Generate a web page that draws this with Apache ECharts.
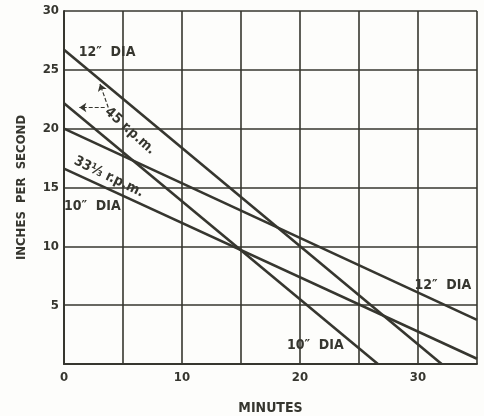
<!DOCTYPE html>
<html>
<head>
<meta charset="utf-8">
<script src="https://cdn.jsdelivr.net/npm/echarts@6/dist/echarts.min.js"></script>
<style>
  html, body { margin: 0; padding: 0; background: #fdfdfb; }
  #chart { width: 484px; height: 416px; }
</style>
</head>
<body>
<div id="chart"></div>
<script>
  // minutes / inches per second
  var minutes45_12 = [0, 32.0];
  var speed45_12 = [26.7, 0];
  var minutes45_10 = [0, 26.6];
  var speed45_10 = [22.15, 0];
  var minutes33_12 = [0, 35];
  var speed33_12 = [20.0, 3.75];
  var minutes33_10 = [0, 35];
  var speed33_10 = [16.6, 0.45];

  var xTicks = ['0', '10', '20', '30'];
  var yTicks = ['5', '10', '15', '20', '25', '30'];

  var ink = '#36362f';
  var font = 'DejaVu Sans Condensed';

  function pairs(xs, ys) {
    var out = [];
    for (var i = 0; i < xs.length; i++) out.push([xs[i], ys[i]]);
    return out;
  }

  function lineSeries(name, xs, ys) {
    return {
      name: name,
      type: 'line',
      data: pairs(xs, ys),
      symbol: 'none',
      lineStyle: { color: ink, width: 2.6 },
      animation: false
    };
  }

  var myChart = echarts.init(document.getElementById('chart'));

  var option = {
    backgroundColor: '#fdfdfb',
    animation: false,
    grid: { left: 64, right: 7, top: 11, bottom: 52, containLabel: false, outerBoundsMode: 'none' },
    xAxis: {
      type: 'value',
      min: 0,
      max: 35,
      interval: 5,
      name: 'MINUTES',
      nameLocation: 'middle',
      nameGap: 37,
      nameTextStyle: { color: ink, fontFamily: font, fontWeight: 'bold', fontSize: 14 },
      axisLine: { lineStyle: { color: ink, width: 2 } },
      axisTick: { show: false },
      axisLabel: {
        color: ink, fontFamily: font, fontWeight: 'bold', fontSize: 13, margin: 7,
        formatter: function (v) { return xTicks.indexOf(String(v)) >= 0 ? String(v) : ''; }
      },
      splitLine: { show: true, lineStyle: { color: ink, width: 1.6 } }
    },
    yAxis: {
      type: 'value',
      min: 0,
      max: 30,
      interval: 5,
      name: 'INCHES  PER  SECOND',
      nameLocation: 'middle',
      nameGap: 36,
      nameTextStyle: { color: ink, fontFamily: font, fontWeight: 'bold', fontSize: 13 },
      axisLine: { show: true, lineStyle: { color: ink, width: 2 } },
      axisTick: { show: false },
      axisLabel: {
        color: ink, fontFamily: font, fontWeight: 'bold', fontSize: 13, margin: 5,
        formatter: function (v) { return yTicks.indexOf(String(v)) >= 0 ? String(v) : ''; }
      },
      splitLine: { show: true, lineStyle: { color: ink, width: 1.6 } }
    },
    series: [
      lineSeries('45 rpm 12in', minutes45_12, speed45_12),
      lineSeries('45 rpm 10in', minutes45_10, speed45_10),
      lineSeries('33 rpm 12in', minutes33_12, speed33_12),
      lineSeries('33 rpm 10in', minutes33_10, speed33_10),
      {
        // arrows from the "45 r.p.m." note to its two lines
        type: 'lines',
        coordinateSystem: 'cartesian2d',
        polyline: false,
        symbol: ['none', 'arrow'],
        symbolSize: 7,
        lineStyle: { color: ink, width: 1.2, type: [4, 2], opacity: 1 },
        data: [
          { coords: [[3.75, 21.8], [3.05, 23.8]] },
          { coords: [[3.45, 21.8], [1.3, 21.8]] }
        ],
        animation: false
      }
    ]
  };
  myChart.setOption(option);

  // notes, placed in data coordinates
  var notes = [
    { text: '12″  DIA', at: [3.65, 26.5], rot: 0 },
    { text: '45 r.p.m.', at: [5.6, 19.8], rot: -42 },
    { text: '33⅓ r.p.m.', at: [3.8, 15.9], rot: -26 },
    { text: '10″  DIA', at: [2.4, 13.4], rot: 0 },
    { text: '12″  DIA', at: [32.1, 6.7], rot: 0 },
    { text: '10″  DIA', at: [21.3, 1.6], rot: 0 }
  ];
  var elements = notes.map(function (n) {
    var p = myChart.convertToPixel({ gridIndex: 0 }, n.at);
    return {
      type: 'text',
      x: p[0],
      y: p[1],
      rotation: n.rot * Math.PI / 180,
      style: {
        text: n.text,
        fill: ink,
        font: 'bold 14px "' + font + '"',
        align: 'center',
        verticalAlign: 'middle'
      }
    };
  });
  myChart.setOption({ graphic: elements });
</script>
</body>
</html>
